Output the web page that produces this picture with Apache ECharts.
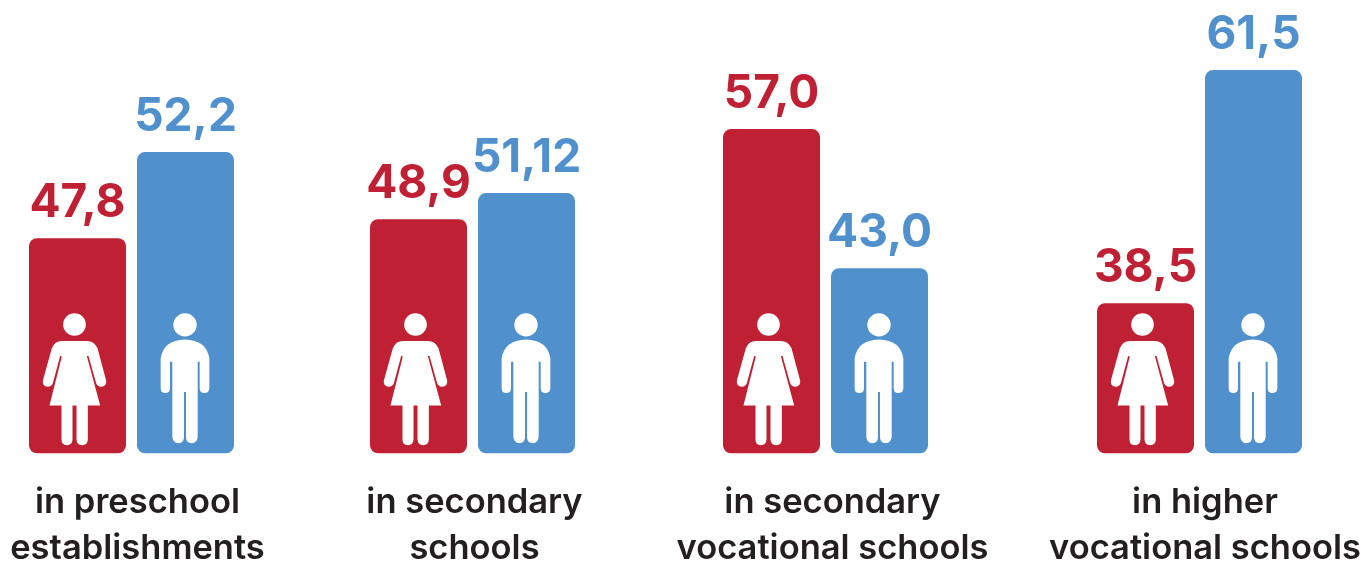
<!DOCTYPE html>
<html>
<head>
<meta charset="utf-8">
<style>
  html, body { margin: 0; padding: 0; background: #fff; }
  #chart { width: 1364px; height: 562px; }
</style>
<script src="https://cdn.jsdelivr.net/npm/echarts@6/dist/echarts.min.js"></script>
</head>
<body>
<div id="chart"></div>
<script>
  const categories = ['in preschool\nestablishments', 'in secondary\nschools', 'in secondary\nvocational schools', 'in higher\nvocational schools'];
  const womenLabels = ['47,8', '48,9', '57,0', '38,5'];
  const menLabels = ['52,2', '51,12', '43,0', '61,5'];
  // the drawn bars are not proportional to the printed numbers, so levels are read off the picture
  const womenLevels = [21.5, 23.4, 32.4, 15.0];
  const menLevels = [30.1, 26.0, 18.5, 38.3];

  const RED = '#c02033';
  const BLUE = '#4f90cd';
  const FONT = 'Inter';
  const groupLeft = [23.5, 364.5, 717.5, 1091.5];
  const textCenter = [137.5, 474.5, 832.5, 1205];

  const womanIcon = 'path://M163 70a34 34 0 1 1-.01 0zM125 153L200 153Q222 153 232 175L258 272Q260 288 243 290Q232 290 228 280L205 198L200 198L240 346L203 346L203 448Q202 465 186 465Q170 465 169 448L169 346L157 346L157 448Q156 465 140 465Q124 465 124 448L124 346L88 346L125 200L120 198L98 280Q94 290 83 290Q66 288 68 272L95 175Q104 153 125 153Z';
  const manIcon = 'path://M495 69a35 35 0 1 1-.01 0zM495 148Q560 150 568 205L568 295Q566 309 553 309Q540 309 539 295L539 215L533 215L533 440Q532 460 515 460Q499 460 498 442L498 306L492 306L492 442Q491 460 475 460Q458 460 457 440L457 215L450 215L450 295Q449 309 436 309Q423 309 422 295L422 205Q430 150 495 148Z';

  const grids = [];
  const xAxes = [];
  const yAxes = [];
  const series = [];
  const titles = [];

  categories.forEach((name, i) => {
    grids.push({ left: groupLeft[i], width: 216, top: 20, bottom: 108.7 });
    xAxes.push({ gridIndex: i, type: 'category', data: ['women', 'men'], show: false });
    yAxes.push({ gridIndex: i, type: 'value', min: 0, max: 43.3, show: false });

    const makeLabel = (text, color) => ({
      show: true,
      position: 'top',
      distance: 12,
      formatter: text,
      color: color,
      fontFamily: FONT,
      fontWeight: 700,
      fontSize: 46
    });

    series.push({
      type: 'bar',
      xAxisIndex: i,
      yAxisIndex: i,
      barWidth: 97,
      silent: true,
      itemStyle: { borderRadius: 8 },
      data: [
        { value: womenLevels[i], itemStyle: { color: RED }, label: makeLabel(womenLabels[i], RED) },
        { value: menLevels[i], itemStyle: { color: BLUE }, label: makeLabel(menLabels[i], BLUE) }
      ]
    });

    series.push({
      type: 'scatter',
      xAxisIndex: i,
      yAxisIndex: i,
      silent: true,
      z: 5,
      itemStyle: { color: '#fff', opacity: 1 },
      data: [
        { value: ['women', 7.41], symbol: womanIcon, symbolSize: [63.5, 132], symbolOffset: [-3, 0] },
        { value: ['men', 7.5], symbol: manIcon, symbolSize: [48.7, 130], symbolOffset: [-0.5, 0] }
      ]
    });

    titles.push({
      text: name,
      left: textCenter[i],
      top: 480,
      padding: 0,
      textAlign: 'center',
      textStyle: {
        fontFamily: FONT,
        fontWeight: 600,
        fontSize: 34.5,
        lineHeight: 46,
        color: '#231f20'
      }
    });
  });

  const instance = echarts.init(document.getElementById('chart'));
  instance.setOption({
    animation: false,
    backgroundColor: '#fff',
    title: titles,
    grid: grids,
    xAxis: xAxes,
    yAxis: yAxes,
    series: series
  });
</script>
</body>
</html>
